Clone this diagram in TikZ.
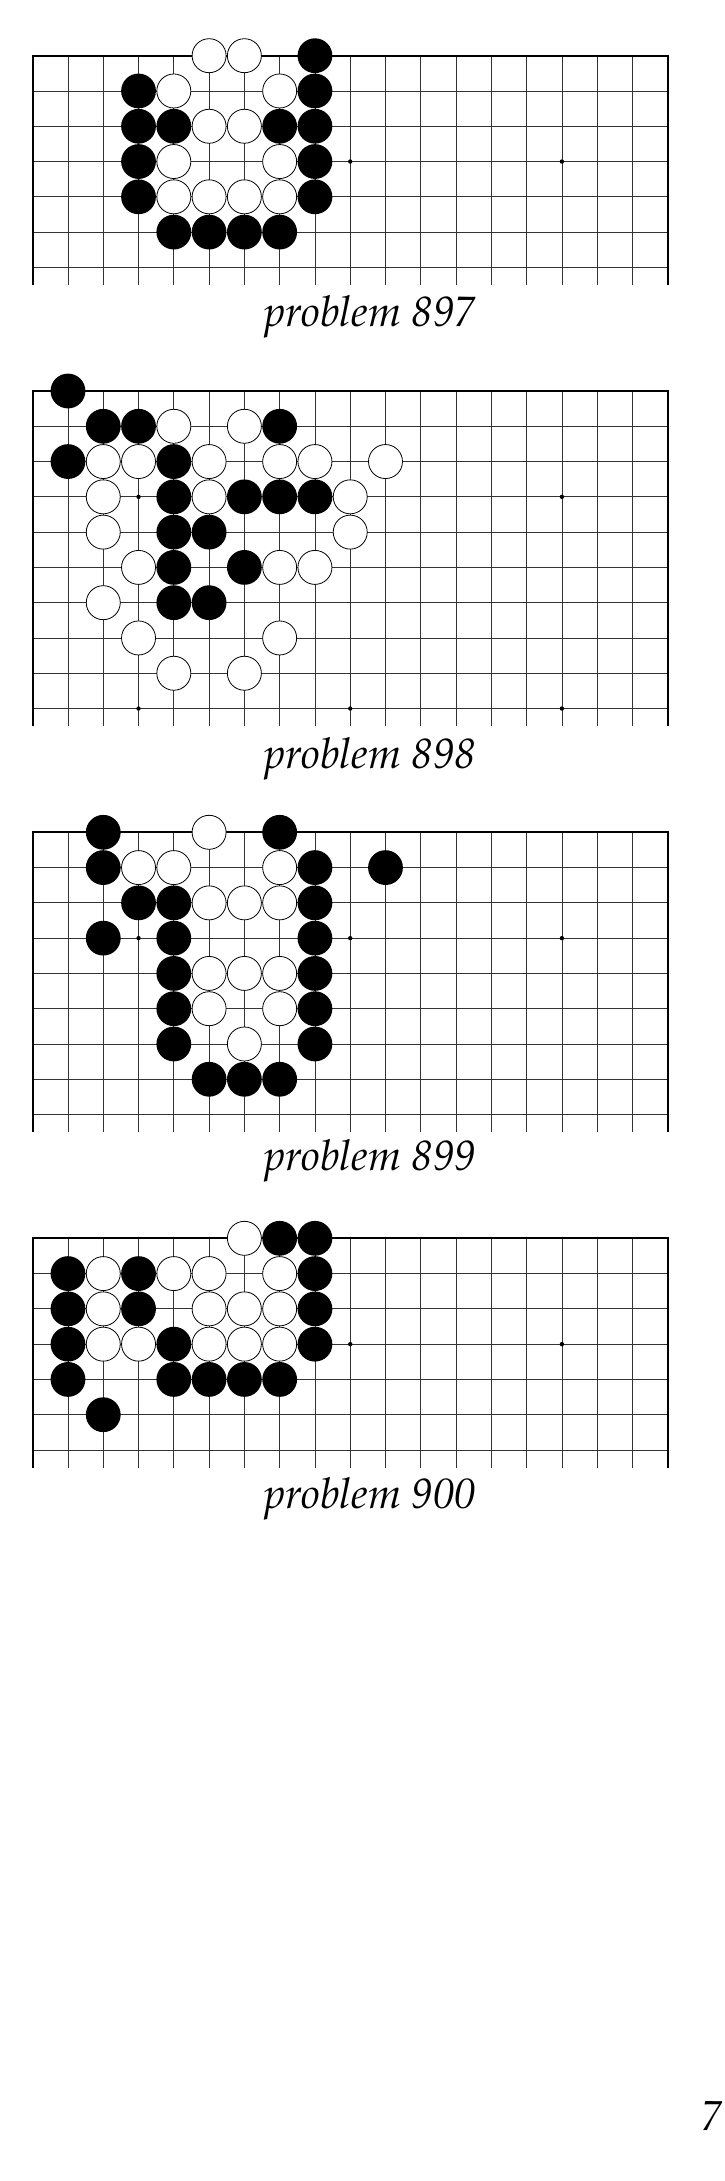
\documentclass[tikz,border=0pt]{standalone}
\usepackage[T1]{fontenc}
\newcommand\capfont{\fontencoding{T1}\fontfamily{ppl}\fontseries{m}\fontshape{it}\fontsize{42.5}{42.5}\selectfont}
\newcommand\pgfont{\fontencoding{T1}\fontfamily{ppl}\fontseries{m}\fontshape{it}\fontsize{42}{42}\selectfont}
\def\gs{35.28}
\def\gx{32.7}
\tikzset{
  gridline/.style={line width=0.8pt, black!80},
  edgeline/.style={line width=1.7pt, black},
  blackstone/.style={fill=black},
  whitestone/.style={fill=white, draw=black, line width=0.8pt},
  starpt/.style={fill=black},
  caption/.style={anchor=base, inner sep=0pt, font=\capfont},
}
% #1 y0, #2 last row index, #3 black list, #4 white list, #5 star list
\newcommand\goboard[5]{%
  \begin{scope}[shift={(\gx,#1)}]
    \foreach \c in {1,...,17} {\draw[gridline] (\c*\gs,0) -- (\c*\gs,{(#2+0.5)*\gs});}
    \foreach \r in {1,...,#2} {\draw[gridline] (0,\r*\gs) -- (18*\gs,\r*\gs);}
    \draw[edgeline] (0,{(#2+0.5)*\gs}) -- (0,0) -- (18*\gs,0) -- (18*\gs,{(#2+0.5)*\gs});
    \foreach \c/\r in {#5} {\fill[starpt] (\c*\gs,\r*\gs) circle (2.2);}
    \foreach \c/\r in {#3} {\fill[blackstone] (\c*\gs,\r*\gs) circle (17.4);}
    \foreach \c/\r in {#4} {\draw[whitestone] (\c*\gs,\r*\gs) circle (17.0);}
  \end{scope}}
\begin{document}
\begin{tikzpicture}[x=1pt,y=-1pt]
\useasboundingbox[fill=white] (0,0) rectangle (724,2181);
% problem 897
\goboard{55.7}{6}
  {8/0,3/1,8/1,3/2,4/2,7/2,8/2,3/3,8/3,3/4,8/4,4/5,5/5,6/5,7/5}
  {5/0,6/0,4/1,7/1,5/2,6/2,4/3,7/3,4/4,5/4,6/4,7/4}
  {3/3,9/3,15/3}
\node[caption] (c897) at (370,326) {problem 897};
% problem 898
\goboard{391}{9}
  {1/0,2/1,3/1,7/1,1/2,4/2,4/3,6/3,7/3,8/3,4/4,5/4,4/5,6/5,4/6,5/6}
  {4/1,6/1,2/2,3/2,5/2,7/2,8/2,10/2,2/3,5/3,9/3,2/4,9/4,3/5,7/5,8/5,2/6,3/7,7/7,4/8,6/8}
  {3/3,9/3,15/3,3/9,9/9,15/9}
\node[caption] (c898) at (370,768) {problem 898};
% problem 899
\goboard{832.3}{8}
  {2/0,7/0,2/1,8/1,10/1,3/2,4/2,8/2,2/3,4/3,8/3,4/4,8/4,4/5,8/5,4/6,8/6,5/7,6/7,7/7}
  {5/0,3/1,4/1,7/1,5/2,6/2,7/2,5/4,6/4,7/4,5/5,7/5,6/6}
  {3/3,9/3,15/3}
\node[caption] (c899) at (370,1170) {problem 899};
% problem 900
\goboard{1238.3}{6}
  {7/0,8/0,1/1,3/1,8/1,1/2,3/2,8/2,1/3,4/3,8/3,1/4,4/4,5/4,6/4,7/4,2/5}
  {6/0,2/1,4/1,5/1,7/1,2/2,5/2,6/2,7/2,2/3,3/3,5/3,6/3,7/3}
  {3/3,9/3,15/3}
\node[caption] (c900) at (370,1508.5) {problem 900};
% page number
\node[anchor=base west, inner sep=0pt, font=\pgfont] (pg) at (701,2130.7) {7};
\end{tikzpicture}
\end{document}
